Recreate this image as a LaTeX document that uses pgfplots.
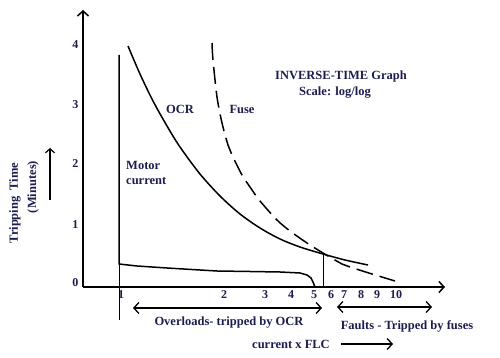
\documentclass[border=0pt]{standalone}
\usepackage{fontspec}
\setmainfont{Liberation Serif}
\usepackage{pgfplots}
\pgfplotsset{compat=1.18}
\usetikzlibrary{arrows.meta}
\definecolor{txt}{RGB}{28,28,78}
\tikzset{lab/.style={font=\bfseries\fontsize{12.5}{14}\selectfont, text=txt}}
\begin{document}
\begin{tikzpicture}
\begin{axis}[
  scale only axis, width=362pt, height=277pt,
  xmin=83, xmax=445, ymin=71, ymax=348,
  axis lines=left, clip=false,
  axis line style={line width=1.5pt, -{Straight Barb[length=5pt,width=11pt,line width=1.5pt]}},
  major tick length=0pt,
  xtick={121,224,265,291,314,331,344,361,377,396},
  xticklabels={1,2,3,4,5,6,7,8,9,10},
  ytick={75,133,194,253,313},
  yticklabels={0,1,2,3,4},
  tick label style={font=\bfseries\fontsize{12}{14}\selectfont, text=txt},
  xticklabel style={yshift=0pt},
  yticklabel style={xshift=-1pt},
]
% bounding box
\path (axis cs:0,0) rectangle (axis cs:500,358);
% motor current
\addplot[black, line width=1.5pt] coordinates {(119,303) (119,94) (137,92) (167,90) (200,88) (217,87) (250,86.5) (280,86) (300,85) (307,83) (311,80) (313,76) (315,71)};
\addplot[black, line width=0.6pt] coordinates {(119,94) (119,38)};
\addplot[black, line width=0.6pt] coordinates {(323,105) (323,71)};
% OCR curve
\addplot[black, line width=1.5pt, smooth] coordinates {(128,312) (140,284) (153,257) (167,232) (180,211) (200,184) (220,162) (240,144) (260,130) (280,119) (300,111) (323,104) (345,98) (368,93)};
% Fuse curve
\addplot[black, line width=1.5pt, smooth, dash pattern=on 17pt off 7pt] coordinates {(212,315) (213,298) (217,261) (222,235) (228,213) (232,203) (242,183) (250,171) (260,157) (277,138) (290,127) (307,115) (323,105) (342,94) (350,91) (372,84) (395,77)};
% arrows
\addplot[black, line width=1.2pt, -{Straight Barb[length=4pt,width=9pt,line width=1.2pt]}] coordinates {(50,158) (50,210)};
\addplot[black, line width=1.3pt, {Straight Barb[length=5pt,width=11pt,line width=1.3pt]}-{Straight Barb[length=5pt,width=11pt,line width=1.3pt]}] coordinates {(133,50) (322,50)};
\addplot[black, line width=1.3pt, {Straight Barb[length=5pt,width=11pt,line width=1.3pt]}-{Straight Barb[length=5pt,width=11pt,line width=1.3pt]}] coordinates {(337,51) (432,51)};
\addplot[black, line width=1.3pt, -{Straight Barb[length=5pt,width=11pt,line width=1.3pt]}] coordinates {(341,14) (393,14)};
% texts
\node[lab] at (axis cs:180,249) {OCR};
\node[lab] at (axis cs:242,249) {Fuse};
\node[lab] at (axis cs:341,282) {INVERSE-TIME Graph};
\node[lab] at (axis cs:335,265) {Scale: log/log};
\node[lab, anchor=west, inner sep=0pt] at (axis cs:126,193) {Motor};
\node[lab, anchor=west, inner sep=0pt] at (axis cs:126,177) {current};
\node[lab, rotate=90] at (axis cs:15,155) {Tripping\ \ Time};
\node[lab, rotate=90] at (axis cs:33,171) {(Minutes)};
\node[lab] at (axis cs:229,35) {Overloads- tripped by OCR};
\node[lab] at (axis cs:407,32) {Faults - Tripped by fuses};
\node[lab] at (axis cs:291,14) {current x FLC};
\end{axis}
\end{tikzpicture}
\end{document}
